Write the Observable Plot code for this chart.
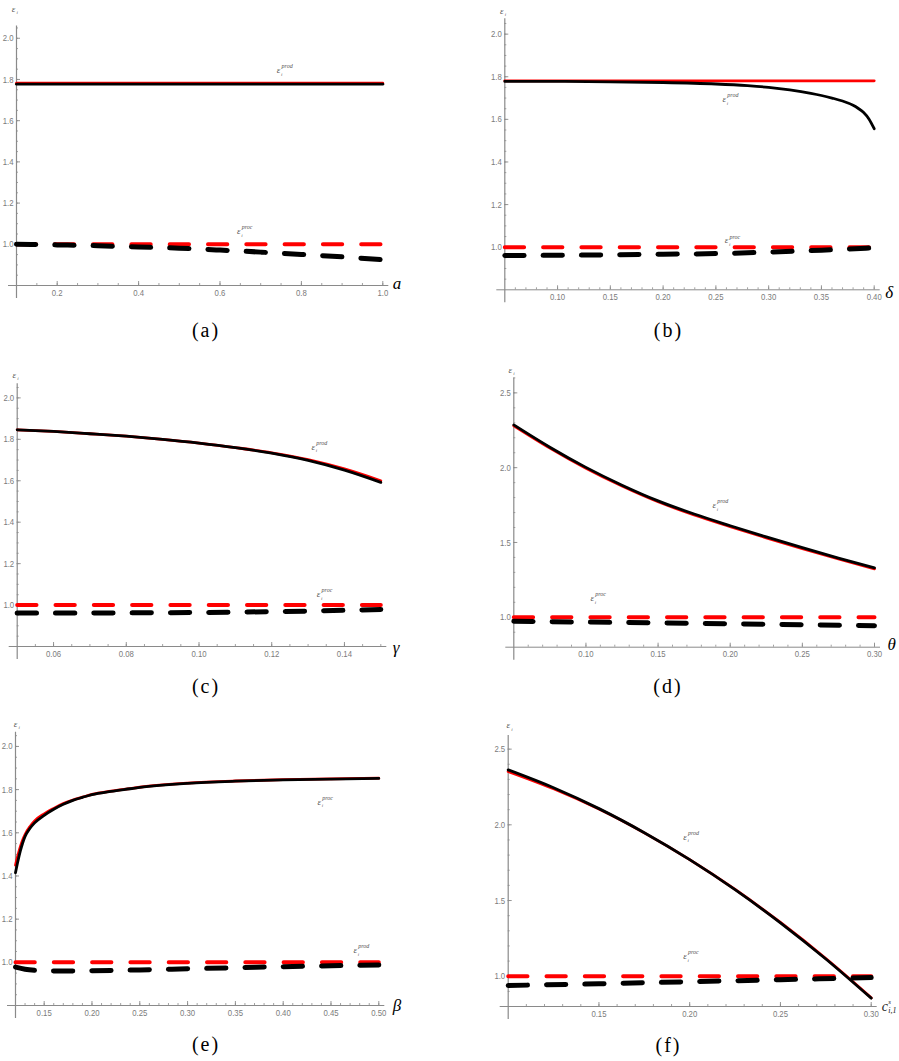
<!DOCTYPE html>
<html><head><meta charset="utf-8">
<script src="https://cdn.jsdelivr.net/npm/d3@7"></script>
<script src="https://cdn.jsdelivr.net/npm/@observablehq/plot@0.6"></script>
<style>
body{margin:0;background:#fff;}
#root{position:relative;width:899px;height:1061px;overflow:hidden;}
.panel{position:absolute;}
.cap{position:absolute;font-family:"Liberation Serif","Times New Roman","DejaVu Serif",serif;font-size:20px;letter-spacing:2px;transform:translate(-50%,-50%);white-space:nowrap;color:#000;}
</style></head>
<body><div id="root"></div>
<script>
// ---------------- DATA ----------------
// (a) parameter a
const aSolidX = [0.1,0.2,0.3,0.4,0.5,0.6,0.7,0.8,0.9,1.0];
const aRedSolid = [1.782,1.782,1.782,1.782,1.782,1.782,1.782,1.782,1.782,1.782];
const aBlackSolid = [1.777,1.777,1.777,1.777,1.777,1.777,1.777,1.777,1.777,1.777];
const aDashX = [0.1,0.2,0.3,0.4,0.5,0.6,0.7,0.8,0.9,1.0];
const aRedDash = [1.0,1.0,1.0,1.0,1.0,1.0,1.0,1.0,1.0,1.0];
const aBlackDash = [1.0,0.997,0.993,0.987,0.981,0.972,0.962,0.951,0.939,0.925];

// (b) parameter delta
const bSolidX = [0.05,0.10,0.15,0.20,0.25,0.28,0.30,0.32,0.34,0.35,0.36,0.37,0.38,0.385,0.39,0.395,0.40];
const bRedSolid = [1.781,1.781,1.781,1.781,1.781,1.781,1.781,1.781,1.781,1.781,1.781,1.781,1.781,1.781,1.781,1.781,1.781];
const bBlackSolid = [1.778,1.778,1.776,1.773,1.766,1.758,1.750,1.738,1.722,1.712,1.700,1.686,1.666,1.651,1.632,1.602,1.556];
const bDashX = [0.05,0.10,0.15,0.20,0.25,0.30,0.35,0.40];
const bRedDash = [1.0,1.0,1.0,1.0,1.0,1.0,1.0,1.0];
const bBlackDash = [0.961,0.962,0.964,0.967,0.970,0.977,0.986,0.997];

// (c) parameter gamma
const cSolidX = [0.05,0.06,0.07,0.08,0.09,0.10,0.11,0.12,0.13,0.14,0.15];
const cRedSolid = [1.846,1.838,1.827,1.815,1.800,1.782,1.760,1.735,1.702,1.657,1.600];
const cBlackSolid = [1.846,1.838,1.827,1.815,1.800,1.782,1.760,1.733,1.698,1.651,1.592];
const cDashX = [0.05,0.07,0.09,0.11,0.13,0.15];
const cRedDash = [1.0,1.0,1.0,1.0,1.0,1.0];
const cBlackDash = [0.962,0.962,0.963,0.966,0.971,0.979];

// (d) parameter theta
const dSolidX = [0.05,0.075,0.10,0.125,0.15,0.175,0.20,0.225,0.25,0.275,0.30];
const dRedSolid = [2.280,2.131,1.996,1.877,1.772,1.684,1.606,1.531,1.459,1.390,1.324];
const dBlackSolid = [2.286,2.137,2.002,1.883,1.778,1.690,1.612,1.537,1.465,1.396,1.330];
const dDashX = [0.05,0.10,0.15,0.20,0.25,0.30];
const dRedDash = [1.0,1.0,1.0,1.0,1.0,1.0];
const dBlackDash = [0.973,0.968,0.962,0.956,0.950,0.944];

// (e) parameter beta
const eSolidX = [0.12,0.1225,0.125,0.1275,0.13,0.135,0.14,0.15,0.16,0.17,0.18,0.19,0.20,0.22,0.24,0.25,0.30,0.35,0.40,0.45,0.50];
const eRedSolid = [1.450,1.495,1.535,1.567,1.592,1.628,1.655,1.688,1.713,1.735,1.752,1.765,1.778,1.793,1.805,1.811,1.830,1.840,1.846,1.850,1.853];
const eBlackSolid = [1.415,1.468,1.515,1.553,1.583,1.620,1.646,1.681,1.709,1.732,1.750,1.764,1.777,1.792,1.804,1.810,1.829,1.839,1.845,1.849,1.852];
const eDashX = [0.12,0.13,0.14,0.15,0.175,0.20,0.25,0.30,0.35,0.40,0.45,0.50];
const eRedDash = [1.0,1.0,1.0,1.0,1.0,1.0,1.0,1.0,1.0,1.0,1.0,1.0];
const eBlackDash = [0.978,0.968,0.963,0.961,0.960,0.961,0.965,0.970,0.975,0.980,0.984,0.988];

// (f) parameter c^s_{i,1}
const fSolidX = [0.10,0.125,0.15,0.175,0.20,0.225,0.25,0.275,0.30];
const fRedSolid = [2.352,2.238,2.104,1.947,1.770,1.573,1.355,1.117,0.858];
const fBlackSolid = [2.363,2.245,2.107,1.948,1.770,1.572,1.353,1.114,0.855];
const fDashX = [0.10,0.15,0.20,0.25,0.30];
const fRedDash = [1.0,1.0,1.0,1.0,1.0];
const fBlackDash = [0.939,0.950,0.964,0.977,0.991];

// tick labels
const aXTicks = [0.2,0.4,0.6,0.8,1.0];
const bXTicks = [0.10,0.15,0.20,0.25,0.30,0.35,0.40];
const cXTicks = [0.06,0.08,0.10,0.12,0.14];
const dXTicks = [0.10,0.15,0.20,0.25,0.30];
const eXTicks = [0.15,0.20,0.25,0.30,0.35,0.40,0.45,0.50];
const fXTicks = [0.15,0.20,0.25,0.30];
const yTicksLow = [1.0,1.2,1.4,1.6,1.8,2.0];
const yTicksHigh = [1.0,1.5,2.0,2.5];

// ---------------- LAYOUT / STYLE ----------------
const panels = [
  {id:"a", caption:"(a)", capX:206, capY:330, left:0, top:0, width:450, height:310,
   mL:16, mR:67.7, mT:25.4, mB:25, xDomain:[0.1,1.0], yDomain:[0.8,2.06],
   sx:aSolidX, rs:aRedSolid, bs:aBlackSolid, dx:aDashX, rd:aRedDash, bd:aBlackDash,
   xTicks:aXTicks, xDec:1, xMinor:0.05, yTicks:yTicksLow, yDec:1, yMinor:0.05,
   varLabel:"a", varDx:10, varDy:-2, epsDx:-3, epsDy:-17,
   prod:[0.744,1.844], proc:[0.646,1.062], prodText:"prod", procText:"proc"},
  {id:"b", caption:"(b)", capX:668.5, capY:330, left:450, top:0, width:449, height:310,
   mL:54.3, mR:25.3, mT:18.3, mB:20.7, xDomain:[0.05,0.40], yDomain:[0.8,2.072],
   sx:bSolidX, rs:bRedSolid, bs:bBlackSolid, dx:bDashX, rd:bRedDash, bd:bBlackDash,
   xTicks:bXTicks, xDec:2, xMinor:0.01, yTicks:yTicksLow, yDec:1, yMinor:0.05,
   varLabel:"δ", varDx:11, varDy:3, epsDx:-3, epsDy:-8,
   prod:[0.258,1.693], proc:[0.260,1.031], prodText:"prod", procText:"proc"},
  {id:"c", caption:"(c)", capX:206, capY:686, left:0, top:340, width:450, height:330,
   mL:16.7, mR:69.7, mT:43.3, mB:24, xDomain:[0.05,0.15], yDomain:[0.8,2.068],
   sx:cSolidX, rs:cRedSolid, bs:cBlackSolid, dx:cDashX, rd:cRedDash, bd:cBlackDash,
   xTicks:cXTicks, xDec:2, xMinor:0.005, yTicks:yTicksLow, yDec:1, yMinor:0.05,
   varLabel:"γ", varDx:12, varDy:1, epsDx:-3, epsDy:-9,
   prod:[0.1314,1.762], proc:[0.1329,1.051], prodText:"prod", procText:"proc"},
  {id:"d", caption:"(d)", capX:668, capY:686, left:450, top:340, width:449, height:330,
   mL:63.3, mR:25, mT:37.4, mB:23.3, xDomain:[0.05,0.30], yDomain:[0.8,2.6],
   sx:dSolidX, rs:dRedSolid, bs:dBlackSolid, dx:dDashX, rd:dRedDash, bd:dBlackDash,
   xTicks:dXTicks, xDec:2, xMinor:0.01, yTicks:yTicksHigh, yDec:1, yMinor:0.1,
   varLabel:"θ", varDx:13, varDy:-3, epsDx:-3.5, epsDy:-8,
   prod:[0.1889,1.747], proc:[0.1043,1.126], prodText:"prod", procText:"proc"},
  {id:"e", caption:"(e)", capX:206, capY:1044, left:0, top:700, width:450, height:330,
   mL:15, mR:71.7, mT:31.7, mB:25, xDomain:[0.12,0.50], yDomain:[0.8,2.066],
   sx:eSolidX, rs:eRedSolid, bs:eBlackSolid, dx:eDashX, rd:eRedDash, bd:eBlackDash,
   xTicks:eXTicks, xDec:2, xMinor:0.01, yTicks:yTicksLow, yDec:1, yMinor:0.05,
   varLabel:"β", varDx:14, varDy:0, epsDx:0, epsDy:-8,
   prod:[0.4377,1.742], proc:[0.4753,1.055], prodText:"proc", procText:"prod"},
  {id:"f", caption:"(f)", capX:668.5, capY:1045, left:450, top:700, width:449, height:330,
   mL:57.7, mR:28.3, mT:35, mB:24, xDomain:[0.10,0.30], yDomain:[0.8,2.59],
   sx:fSolidX, rs:fRedSolid, bs:fBlackSolid, dx:fDashX, rd:fRedDash, bd:fBlackDash,
   xTicks:fXTicks, xDec:2, xMinor:0.01, yTicks:yTicksHigh, yDec:1, yMinor:0.1,
   varLabel:null, varDx:10.5, varDy:0, epsDx:0, epsDy:-10,
   prod:[0.1974,1.917], proc:[0.1974,1.13], prodText:"prod", procText:"proc"}
];

const AXIS = "#8a8a8a";
const TICKTXT = "#7b7b7b";
const SANS = "'Liberation Sans',Arial,sans-serif";
const SERIF = "'Liberation Serif','Times New Roman','DejaVu Serif',serif";
const DASH = "19.3,19";

function minorTicks(lo, hi, step) {
  const out = [];
  const n0 = Math.floor(lo / step + 1e-6) + 1, n1 = Math.floor(hi / step + 1e-6);
  for (let n = n0; n <= n1; n++) out.push(+(n * step).toFixed(6));
  return out;
}

function epsLabel(pos, sup, color) {
  const base = {x: pos[0], y: pos[1], fontFamily: SERIF, fontStyle: "italic", fill: color};
  return [
    Plot.text([0], {...base, text: () => "ε", fontSize: 9}),
    Plot.text([0], {...base, text: () => sup, fontSize: 6, textAnchor: "start", dx: 3, dy: -4}),
    Plot.text([0], {...base, text: () => "i", fontSize: 5, textAnchor: "start", dx: 2.5, dy: 3.5})
  ];
}

const root = document.getElementById("root");

for (const p of panels) {
  const [x0, x1] = p.xDomain, [y0, y1] = p.yDomain;
  const solid = p.sx.map((x, i) => ({x, red: p.rs[i], black: p.bs[i]}));
  const dash = p.dx.map((x, i) => ({x, red: p.rd[i], black: p.bd[i]}));
  const xMin = minorTicks(x0, x1, p.xMinor);
  const yMin = minorTicks(y0, y1, p.yMinor);
  const fmtX = d => d.toFixed(p.xDec), fmtY = d => d.toFixed(p.yDec);

  const marks = [
    // axes lines
    Plot.ruleY([y0], {x1: x0, x2: x1, stroke: AXIS, strokeWidth: 1, insetLeft: -8, insetRight: -6}),
    Plot.ruleX([x0], {y1: y1, y2: y0, stroke: AXIS, strokeWidth: 1.2, insetBottom: -13}),
    // minor & major ticks (inward)
    Plot.ruleX(xMin, {x: d => d, y1: y0, y2: y0, insetTop: -2, stroke: AXIS, strokeWidth: 0.8}),
    Plot.ruleX(p.xTicks, {x: d => d, y1: y0, y2: y0, insetTop: -4, stroke: AXIS, strokeWidth: 0.9}),
    Plot.ruleY(yMin, {y: d => d, x1: x0, x2: x0, insetRight: -2, stroke: AXIS, strokeWidth: 0.8}),
    Plot.ruleY(p.yTicks, {y: d => d, x1: x0, x2: x0, insetRight: -4, stroke: AXIS, strokeWidth: 0.9}),
    // tick labels
    Plot.text(p.xTicks, {x: d => d, y: y0, text: fmtX, dy: 7, fill: TICKTXT, fontSize: 9.5, fontFamily: SANS}),
    Plot.text(p.yTicks, {x: x0, y: d => d, text: fmtY, dx: -3, textAnchor: "end", fill: TICKTXT, fontSize: 9.5, fontFamily: SANS}),
    // curves
    Plot.line(solid, {x: "x", y: "red", stroke: "#ff0000", strokeWidth: 2.8, curve: "monotone-x"}),
    Plot.line(dash, {x: "x", y: "red", stroke: "#ff0000", strokeWidth: 4, strokeDasharray: DASH, curve: "monotone-x"}),
    Plot.line(solid, {x: "x", y: "black", stroke: "#000000", strokeWidth: 2.8, curve: "monotone-x"}),
    Plot.line(dash, {x: "x", y: "black", stroke: "#000000", strokeWidth: 5, strokeDasharray: DASH, curve: "monotone-x"}),
    // curve labels
    ...epsLabel(p.prod, p.prodText, "#555"),
    ...epsLabel(p.proc, p.procText, "#555"),
    // y axis label
    Plot.text([0], {x: x0, y: y1, text: () => "ε", dx: p.epsDx, dy: p.epsDy, fontSize: 9, fontStyle: "italic", fontFamily: SERIF, fill: "#555"}),
    Plot.text([0], {x: x0, y: y1, text: () => "i", dx: p.epsDx + 3, dy: p.epsDy + 3.5, fontSize: 5, fontStyle: "italic", fontFamily: SERIF, fill: "#555", textAnchor: "start"})
  ];
  if (p.varLabel) {
    marks.push(Plot.text([0], {x: x1, y: y0, text: () => p.varLabel, dx: p.varDx, dy: p.varDy, textAnchor: "start", fontSize: 17, fontStyle: "italic", fontFamily: SERIF, fill: "#000"}));
  } else {
    marks.push(Plot.text([0], {x: x1, y: y0, text: () => "c", dx: p.varDx, dy: 0, textAnchor: "start", fontSize: 14, fontStyle: "italic", fontFamily: SERIF, fill: "#222"}));
    marks.push(Plot.text([0], {x: x1, y: y0, text: () => "s", dx: p.varDx + 6.5, dy: -5, textAnchor: "start", fontSize: 7, fontStyle: "italic", fontFamily: SERIF, fill: "#222"}));
    marks.push(Plot.text([0], {x: x1, y: y0, text: () => "i,1", dx: p.varDx + 6.5, dy: 3.5, textAnchor: "start", fontSize: 8, fontStyle: "italic", fontFamily: SERIF, fill: "#222"}));
  }

  const svg = Plot.plot({
    width: p.width, height: p.height,
    marginLeft: p.mL, marginRight: p.mR, marginTop: p.mT, marginBottom: p.mB,
    x: {domain: p.xDomain, axis: null},
    y: {domain: p.yDomain, axis: null},
    style: {background: "transparent", overflow: "visible"},
    marks
  });
  // condense the tick-label glyphs horizontally (Mathematica-style narrow labels)
  d3.select(svg).selectAll(`g[fill="${TICKTXT}"] text`).each(function() {
    const t = this.getAttribute("transform") || "";
    this.setAttribute("transform", t + " scale(0.82,1)");
  });
  const wrap = document.createElement("div");
  wrap.className = "panel";
  wrap.style.left = p.left + "px";
  wrap.style.top = p.top + "px";
  wrap.appendChild(svg);
  root.appendChild(wrap);

  const cap = document.createElement("div");
  cap.className = "cap";
  cap.style.left = p.capX + "px";
  cap.style.top = p.capY + "px";
  cap.textContent = p.caption;
  root.appendChild(cap);
}
</script>
</body></html>
